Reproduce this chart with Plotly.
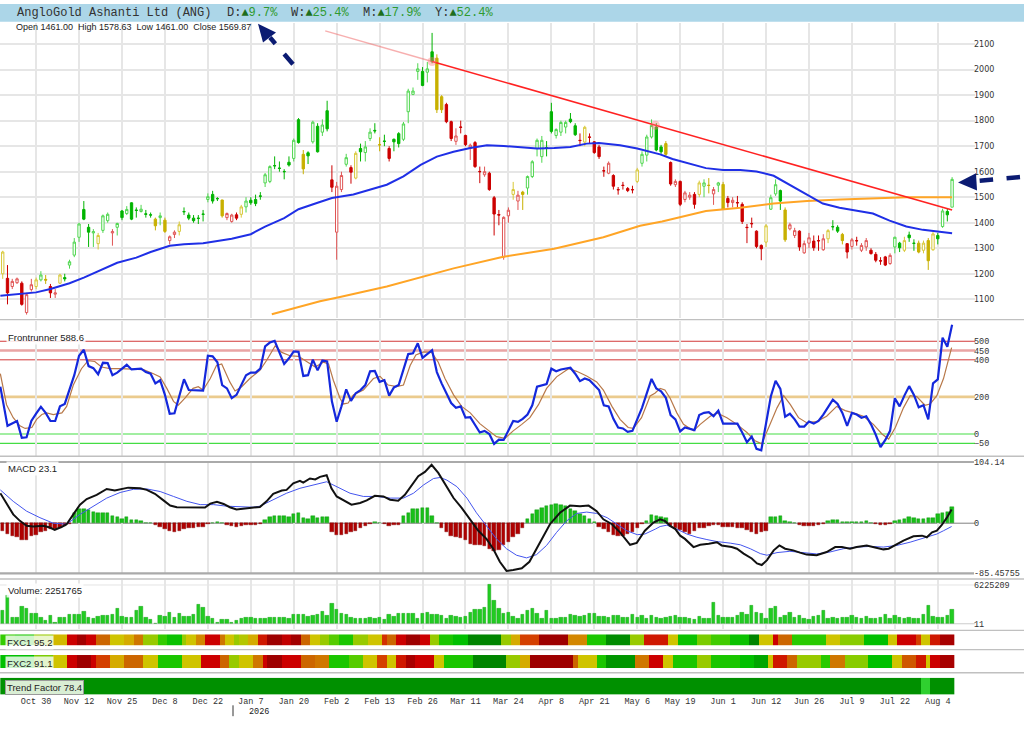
import plotly.graph_objects as go

W, H = 1024, 735

# daily candles, index 0..199
opens = [1200,1182,1150,1165,1163,1048,1138,1150,1176,1178,
         1150,1120,1163,1185,1234,1273,1343,1452,1382,1360,
         1318,1370,1408,1360,1382,1446,1436,1478,1450,1444,
         1435,1431,1414,1420,1410,1330,1354,1366,1444,1430,
         1418,1418,1434,1491,1511,1495,1489,1420,1405,1431,
         1433,1462,1488,1491,1505,1556,1562,1624,1614,1601,
         1637,1652,1804,1668,1674,1717,1778,1755,1839,1568,
         1363,1530,1629,1616,1575,1691,1675,1730,1762,1706,
         1720,1691,1727,1749,1727,1835,1903,1993,1993,1990,
         2070,2045,1894,1863,1796,1719,1775,1742,1691,1714,
         1601,1588,1594,1498,1432,1266,1427,1511,1485,1520,
         1536,1581,1691,1659,1694,1835,1742,1755,1775,1806,
         1780,1723,1716,1736,1717,1697,1604,1594,1585,1530,
         1547,1534,1530,1562,1633,1665,1736,1775,1697,1710,
         1636,1549,1562,1491,1500,1511,1511,1543,1547,1513,
         1547,1550,1495,1479,1479,1472,1382,1397,1367,1311,
         1324,1453,1513,1526,1450,1376,1350,1367,1282,1320,
         1328,1330,1294,1337,1385,1382,1354,1318,1307,1330,
         1292,1305,1292,1276,1251,1266,1240,1305,1320,1292,
         1352,1320,1320,1292,1330,1294,1350,1385,1444,1461]
highs = [1290,1234,1180,1185,1170,1125,1180,1185,1210,1195,
         1160,1140,1200,1200,1255,1340,1400,1485,1395,1375,
         1360,1432,1440,1375,1400,1450,1465,1480,1460,1470,
         1450,1440,1420,1440,1420,1350,1370,1405,1460,1440,
         1430,1430,1450,1515,1525,1500,1490,1440,1435,1440,
         1470,1500,1500,1510,1520,1595,1625,1660,1640,1610,
         1660,1730,1810,1685,1680,1800,1790,1805,1878,1625,
         1560,1600,1670,1625,1680,1710,1720,1770,1790,1735,
         1745,1700,1730,1755,1795,1925,1930,2025,2010,2030,
         2144,2060,1900,1870,1800,1770,1800,1745,1710,1720,
         1620,1620,1600,1505,1450,1425,1460,1560,1525,1525,
         1585,1645,1730,1740,1720,1870,1770,1800,1800,1830,
         1790,1750,1780,1750,1720,1705,1620,1640,1590,1540,
         1560,1540,1545,1615,1680,1745,1805,1790,1705,1720,
         1640,1570,1565,1525,1520,1520,1565,1570,1575,1540,
         1560,1560,1505,1500,1505,1480,1395,1420,1370,1315,
         1395,1510,1570,1530,1460,1400,1380,1370,1330,1360,
         1350,1350,1355,1375,1410,1390,1360,1320,1340,1345,
         1320,1340,1300,1285,1265,1270,1280,1345,1325,1345,
         1365,1335,1330,1330,1340,1365,1360,1455,1455,1578.63]
lows = [1180,1080,1140,1160,1075,1040,1130,1140,1170,1160,
        1105,1105,1160,1170,1220,1265,1325,1410,1305,1305,
        1295,1360,1400,1310,1350,1410,1430,1410,1420,1440,
        1420,1420,1370,1390,1360,1315,1340,1350,1430,1410,
        1400,1395,1405,1480,1475,1485,1420,1410,1400,1410,
        1420,1440,1470,1465,1490,1540,1555,1610,1600,1570,
        1620,1640,1710,1590,1630,1710,1675,1740,1758,1520,
        1255,1520,1620,1553,1570,1640,1640,1720,1750,1680,
        1700,1640,1680,1695,1720,1790,1900,1960,1935,1950,
        2025,1830,1830,1790,1720,1705,1750,1700,1646,1615,
        1555,1580,1525,1350,1390,1255,1400,1490,1450,1450,
        1510,1575,1660,1635,1660,1750,1730,1740,1750,1790,
        1740,1700,1700,1710,1670,1650,1580,1590,1530,1510,
        1530,1520,1515,1555,1620,1640,1730,1680,1670,1660,
        1545,1540,1465,1480,1490,1455,1500,1500,1515,1470,
        1520,1450,1460,1460,1455,1395,1320,1380,1300,1253,
        1305,1450,1505,1450,1325,1370,1340,1290,1278,1300,
        1290,1290,1290,1320,1370,1360,1315,1260,1295,1310,
        1285,1290,1275,1245,1235,1230,1235,1280,1285,1285,
        1325,1290,1280,1280,1215,1290,1315,1380,1405,1461]
closes = [1285,1125,1170,1180,1080,1118,1157,1176,1195,1175,
          1125,1125,1195,1180,1247,1324,1395,1414,1363,1365,
          1350,1427,1433,1365,1397,1420,1452,1414,1448,1453,
          1433,1430,1388,1427,1366,1345,1363,1392,1443,1418,
          1408,1417,1433,1502,1485,1494,1427,1436,1430,1418,
          1462,1485,1478,1475,1504,1588,1620,1623,1613,1600,
          1626,1723,1714,1611,1662,1794,1678,1783,1768,1539,
          1543,1585,1655,1598,1672,1678,1697,1755,1760,1705,
          1719,1652,1717,1710,1787,1916,1916,2003,1938,2003,
          2032,1843,1843,1796,1730,1740,1774,1706,1704,1620,
          1600,1600,1530,1434,1430,1421,1449,1530,1508,1511,
          1581,1639,1723,1723,1693,1758,1765,1793,1793,1796,
          1745,1722,1774,1735,1675,1659,1603,1633,1543,1529,
          1546,1526,1529,1607,1668,1736,1781,1685,1678,1668,
          1552,1562,1472,1517,1508,1472,1556,1556,1546,1530,
          1556,1453,1479,1488,1478,1405,1381,1396,1307,1298,
          1388,1498,1549,1485,1333,1392,1369,1305,1318,1341,
          1302,1329,1337,1369,1384,1367,1330,1285,1333,1329,
          1311,1330,1279,1253,1250,1234,1272,1343,1302,1330,
          1341,1319,1285,1320,1251,1356,1337,1446,1431,1569.87]
# candle colour class: g green, r red, y yellow
candle_cls = ("yrrrrrrygy" "rryggggggg" "yggrgggggg" "ggygyrrygg" "ggggggyrrr"
              "yggggggggg" "gggygggggr" "rrgryggggy" "grgggggggg" "gyyrrrrrrr"
              "rrrrrrryry" "gggggggggg" "gryrrrrrrr" "rrrygggggy" "rrrrrrygyr"
              "gyrrrrrrrr" "ygggyrrrrr" "rrryggyrrr" "rrrrrrrggy" "ggyyyygggg")

ma50_x = [-0.5, 7, 10, 14, 17, 21, 24, 28, 31, 35, 38, 42, 45, 48, 52, 55, 59, 62, 66, 69,
          73.5, 80.5, 84, 87.6, 91, 94.5, 98, 101.5, 105, 108.7, 112, 115.6, 119, 122.4, 125,
          129.4, 133, 137.8, 140.4, 147.4, 151, 154.6, 158, 161.6, 164.9, 168.4, 171.9, 175.4,
          179, 182.4, 185.9, 189.4, 192.9, 196.4, 199]
ma50_y = [1114, 1127, 1140, 1163, 1185, 1220, 1243, 1263, 1285, 1310, 1316, 1320, 1330, 1337,
          1355, 1385, 1418, 1453, 1478, 1497, 1511, 1549, 1582, 1627, 1659, 1678, 1693, 1704,
          1701, 1695, 1691, 1693, 1697, 1710, 1712, 1704, 1691, 1668, 1650, 1614, 1607, 1607,
          1601, 1584, 1549, 1511, 1475, 1459, 1446, 1436, 1408, 1385, 1372, 1363, 1359]
ma200_x = [56.4, 66.5, 70.7, 80.5, 94.5, 104.7, 115.6, 125.9, 133.6, 138.2, 147.4, 154.6,
           161.6, 168.6, 175.6, 182.6, 189.6, 199]
ma200_y = [1041, 1092, 1109, 1150, 1221, 1266, 1298, 1343, 1388, 1405, 1446, 1459, 1475,
           1485, 1491, 1495, 1500, 1500]
trend_x = [67.6, 90, 199]
trend_y = [2152, 2032, 1450]
anchor_x = [90, 136.8]
anchor_y = [2032, 1782]

# Frontrunner oscillator
osc_x = [-0.5, 1, 3, 4, 5, 6, 7, 8, 9, 10, 11, 12, 13, 15, 16, 17, 18, 19, 20, 21, 22, 23, 24,
         26, 27, 28, 29, 30, 31, 32, 33, 34, 35, 36, 38, 39, 40, 42, 43, 44, 45, 46, 47, 48, 49,
         51, 52, 53, 54, 55, 56, 57, 59, 60, 61, 62, 63, 64, 65, 66, 67, 68, 69, 70, 71, 72, 73,
         74, 75, 76, 77, 78, 79, 80, 81, 82, 83, 85, 86, 87, 88, 90, 91, 92, 94, 95, 96, 97, 98,
         99, 100, 101, 102, 103, 104, 105, 107, 108, 109, 110, 111, 112, 114, 115, 116, 117, 119,
         120, 121, 122, 123, 125, 126, 127, 128, 129, 130, 131, 132, 134, 136, 137, 138, 139, 140,
         141, 142, 143, 145, 146, 147, 148, 149, 150, 151, 153, 154, 155, 156, 157, 158, 159, 161,
         162, 163, 164, 165, 166, 167, 168, 169, 170, 171, 172, 174, 175, 176, 177, 178, 179, 180,
         181, 182, 183, 184, 185, 186, 187, 188, 189, 190, 191, 192, 193, 194, 195, 196, 197, 198, 199]
osc_v = [255, 44, 70, -21, -18, 70, 110, 146, 114, 70, 70, 149, 162, 317, 422, 454, 366, 355, 322,
         384, 382, 317, 331, 373, 348, 348, 352, 334, 325, 273, 290, 211, 109, 112, 295, 237, 237,
         234, 422, 419, 387, 264, 246, 193, 211, 317, 331, 331, 352, 472, 493, 502, 378, 408, 445,
         443, 313, 317, 401, 343, 396, 391, 176, 66, 149, 241, 179, 220, 237, 264, 338, 340, 281,
         290, 207, 251, 264, 431, 435, 489, 410, 452, 334, 273, 167, 141, 149, 88, 91, 52, 8, 17,
         0, -53, -30, -32, 70, 65, 82, 105, 155, 255, 269, 352, 338, 348, 357, 325, 285, 299, 290,
         237, 155, 149, 82, 35, 30, 12, 17, 141, 297, 246, 230, 195, 102, 79, 14, 35, 21, 102, 114,
         118, 96, 126, 56, 56, 56, 8, -44, -14, -80, -88, 202, 287, 243, 93, 109, 79, 40, 40, 67,
         56, 70, 105, 185, 162, 114, 44, 114, 105, 88, 96, 52, -4, -71, -32, 17, 193, 149, 207,
         258, 211, 144, 155, 79, 273, 294, 519, 470, 588.6]
sig_x = [-0.5, 0.8, 2.2, 3.6, 4.7, 6.1, 7.1, 8.2, 9.2, 10.6, 12.4, 13.4, 14.8, 16.5, 17.9, 19.3,
         20.7, 22.5, 24.6, 27.4, 29.5, 31.6, 33, 34.4, 35.8, 36.8, 38.2, 39.9, 41, 42, 43.5, 44.8,
         45.9, 47.6, 48.7, 50.1, 51.8, 53.9, 55.3, 57.1, 58.5, 60.2, 62, 63.7, 65.5, 67.2, 68.3,
         69.3, 70.7, 71.4, 72.4, 73.5, 75.6, 77.7, 79.1, 80.8, 82.6, 84, 85.4, 86.6, 88.2, 89.9,
         91.3, 92.7, 94.5, 96.2, 98, 100, 101.8, 103.5, 105.3, 107, 108.8, 110.5, 112.3, 114,
         116.1, 118.6, 120.3, 122.4, 124.5, 125.9, 127.7, 129.4, 131.1, 132.2, 133.9, 135.7,
         136.7, 137.8, 138.8, 139.9, 141.3, 142.7, 144.8, 146.2, 148.3, 149.7, 151.8, 153.9, 156,
         157.7, 159.1, 160.5, 162.3, 163.7, 165.1, 166.8, 168.5, 170.6, 172.7, 174.8, 176.6,
         178.3, 180.4, 182.5, 184.3, 185.7, 187.1, 188.8, 190.2, 191.6, 193.3, 194.4, 195.8,
         197.2, 198.9]
sig_v = [325, 158, 88, 44, 30, 35, 79, 105, 114, 105, 114, 149, 264, 352, 396, 391, 361, 352, 352,
         348, 347, 325, 308, 246, 176, 155, 193, 246, 255, 237, 299, 369, 378, 281, 232, 255, 299,
         343, 396, 475, 440, 422, 419, 391, 361, 387, 378, 290, 193, 162, 167, 211, 237, 299, 311,
         264, 255, 264, 369, 426, 443, 440, 387, 299, 211, 149, 114, 56, 21, -14, -23, 17, 52, 88,
         158, 246, 308, 352, 338, 313, 281, 237, 149, 79, 35, 30, 88, 205, 220, 246, 237, 193,
         114, 52, 17, 52, 96, 114, 88, 52, 8, -36, -53, 35, 141, 207, 158, 88, 61, 67, 96, 149,
         126, 114, 96, 52, 0, -27, 35, 141, 207, 202, 155, 162, 207, 299, 466]
osc_levels = [-50, 0, 200, 400, 450, 500]

# MACD
macd_x = [-0.5, 0.8, 2.2, 3.6, 5, 6.4, 8.5, 9.9, 10.9, 12.4, 13.4, 14.8, 16.2, 17.6, 19.7, 21.8,
          23.5, 26.3, 28.8, 30.2, 31.9, 33.7, 35.1, 36.5, 38.6, 40.7, 42.4, 43.5, 44.9, 46.3, 47.6,
          49, 51.1, 53.9, 55.3, 56.7, 58.5, 59.5, 60.9, 62.3, 63, 64.4, 65.5, 66.5, 67.9, 68.9, 70,
          71.7, 73.1, 74.9, 76.3, 78, 79.8, 81.2, 82.9, 84.3, 85.7, 87.1, 88.5, 89.9, 91.3, 92.7,
          94.5, 96.2, 98, 99.7, 101.4, 102.8, 104.2, 105.6, 107, 108.8, 110.4, 111.9, 113.3, 114.7,
          116.8, 118.9, 121, 122.8, 124.5, 125.9, 127.7, 129.4, 131.5, 132.9, 134.6, 136.4, 137.8,
          138.8, 139.9, 141, 142, 143, 144.8, 146.2, 148, 149.7, 150.7, 152.8, 153.9, 155.3, 157,
          158.1, 159.1, 160.2, 161.6, 162.8, 164, 165.7, 167.1, 168.5, 170.6, 172.7, 174.5, 175.9,
          177.6, 179, 181.1, 182.9, 184.6, 185.7, 187.1, 188.8, 190.9, 192.7, 193.7, 194.8, 195.8,
          196.8, 197.9, 198.9]
macd_v = [51, 34, 15, 4, -4.5, -5.6, -4.5, -7.3, -11.2, -6.2, -1.7, 15, 31.6, 41, 48.3, 58.3, 55.5,
          60.5, 59.4, 56.7, 50, 38.8, 30, 27.2, 27.2, 26.1, 26.6, 33.3, 36.6, 32.7, 27.2, 23.3,
          25.5, 27.7, 37.2, 50, 55.5, 56.7, 67.8, 72.2, 68.9, 76.1, 74.4, 78.9, 81.6, 59.4, 45.5,
          37.2, 31.6, 34.4, 38.8, 46.6, 45.5, 40, 38.3, 48.3, 65, 80, 87.2, 99.4, 85.5, 67.8, 42.8,
          26.1, 6.7, -12.8, -26.7, -43.4, -65.6, -81.2, -79.5, -76.7, -65.6, -43.4, -21.2, -1.7,
          17.7, 30, 28.9, 30, 20.5, 6.7, -1.7, -15.6, -36.7, -33.4, -12.8, 1.1, 6.6, 3.8, -4.5, -10,
          -21.2, -26.7, -40.6, -36.7, -35, -32.3, -37.8, -40.6, -43.4, -51.7, -60, -68.4, -71.2,
          -62.8, -46.2, -37.8, -43.4, -46.2, -50, -53.4, -54.5, -49, -40.6, -40.6, -43.4, -40.6,
          -37.8, -40.6, -44.5, -43.4, -36.7, -29.5, -22.3, -21.2, -23.9, -15.6, -12.8, -3.4, 9.4,
          23.3]
msig_x = [-0.5, 2.2, 5, 7.8, 10.6, 13.4, 16.2, 19, 21.8, 24.6, 27.4, 30.2, 33, 35.8, 38.6, 41.4,
          44.2, 47, 49.7, 52.5, 53.9, 56.7, 59.5, 62.3, 65.1, 67.9, 70.7, 72.8, 75.6, 78.4, 81.2,
          84, 86.1, 88.2, 90.3, 91.7, 93.1, 95.2, 97.3, 99.3, 101.4, 103.5, 105.6, 107.7, 109.8,
          111.9, 114, 116.1, 118.2, 120.3, 122.4, 124.5, 126.7, 128.7, 130.8, 133, 134.6, 136.8,
          137.8, 139.2, 141.3, 143.4, 145.5, 147.6, 149.7, 152.5, 154.6, 156.7, 158.8, 160.2,
          162.3, 165, 167.8, 170.6, 173.4, 176.2, 179, 181.8, 184.6, 187.4, 190.2, 193, 195.8,
          197.2, 198.9]
msig_v = [56.6, 37.2, 20.5, 9.4, 0, -1.7, 15, 28.9, 42.7, 52.2, 57.7, 58.3, 53.9, 45.5, 37.2, 31.6,
          31.6, 28.9, 27.7, 27.2, 28.9, 40, 51, 59.4, 65, 70.5, 59.4, 51, 45.5, 45.5, 42.7, 42.7, 51,
          65, 76, 77.8, 73.3, 62.2, 42.7, 17.7, -4.5, -26.7, -43.4, -54.5, -59, -53.4, -37.8,
          -15.6, 3.8, 16.6, 18.9, 16.6, 9.4, -1.7, -12.8, -19.5, -18.4, -10, -5.6, -3.4, -10, -18.4,
          -23.9, -27.8, -31.2, -33.9, -36.7, -43.4, -51.7, -54.5, -50, -47.8, -50, -52.3, -49,
          -43.4, -40.6, -39.5, -40.6, -37.8, -32.3, -25.6, -18.4, -12.8, -5.6]
macd_hist = [-12.8, -18, -22, -24, -28, -28, -22, -20, -15, -13, -10, -9, -8, -5, -2, 18, 24, 24,
             22, 19, 18, 18, 18, 13, 11, 8, 10, 5.5, 5.5, 4, 1, 1, -3, -5.6, -10, -12.8, -14.5,
             -12.8, -10, -8, -8, -6.7, -5.6, -1, 1, 2, 0.5, -3, -4.5, -5.6, -4.5, -3.3, -2.2, -2.2,
             -1, 5.5, 10, 12, 13, 12, 11, 16, 17, 9, 7, 12, 9.4, 11, 10.6, -15, -20, -20, -18.4,
             -15.6, -12.8, -8.9, -4.5, -1.1, 2.8, 0.5, -2, -4.5, -3.3, -3.3, 12.2, 16.7, 24.4, 24.4,
             25.6, 26.1, 12.2, 1.1, -8.9, -15.6, -22.3, -24, -25.6, -27.8, -35, -36.7, -37.8, -39.5,
             -43.4, -47.8, -46.2, -37.8, -32.2, -24, -18.4, -7.3, 6.7, 15, 23.3, 25.5, 28.9, 31.6,
             32.7, 31.6, 30, 24.4, 20.5, 15, 12.2, 6.7, 2.2, -5.6, -10, -15.6, -20, -22.3, -21.1,
             -18.4, -15.6, -8.9, -1.7, 3.9, 13.3, 12.2, 10.6, 9.4, -4.5, -8.9, -11.1, -14.5, -18.4,
             -12.8, -8.9, -7.3, -4.5, -3.3, -2.2, -5.6, -6.2, -5.6, -7.3, -8.9, -11.1, -14.5, -18.4,
             -15.6, -12.8, 10, 10, 12.2, 3.9, 2.8, 1.1, -3.3, -4.5, -4.5, -4.5, -3.3, -1.7, 3.9, 5.5,
             5.5, 2.2, 2.2, 2.8, 2.8, 2.8, 3.3, 1.1, -1.7, -2.8, -3.3, -1.1, 4.5, 5.5, 7.8, 10, 9.4,
             7.8, 6.7, 9.4, 9.4, 15.6, 17.8, 18.9, 27.8]

# volume, millions of shares
volume_m = [2.11, 4.59, 0.95, 1.06, 2.80, 2.37, 1.69, 1.58, 1.06, 0.53,
            1.32, 0.2, 1.0, 1.06, 1.42, 1.42, 1.42, 1.95, 1.06, 0.9,
            1.11, 1.32, 1.32, 1.42, 2.37, 1.16, 1.06, 1.0, 2.16, 2.74,
            0.95, 0.69, 0.1, 1.32, 1.21, 1.85, 1.06, 1.58, 1.21, 1.21,
            1.42, 3.06, 2.64, 1.16, 0.9, 0.26, 0.69, 0.69, 0.26, 0.53,
            0.9, 1.06, 0.95, 0.79, 0.9, 0.9, 1.06, 1.06, 1.06, 1.06,
            0.9, 1.42, 1.42, 1.42, 1.16, 1.32, 1.42, 2.0, 1.32, 3.17,
            2.27, 1.69, 1.42, 1.06, 0.9, 0.9, 0.79, 1.06, 0.79, 1.06,
            0.63, 1.42, 1.21, 1.58, 1.58, 1.58, 1.58, 0.9, 1.69, 1.74,
            1.42, 1.42, 1.32, 0.9, 1.32, 1.21, 1.06, 1.11, 1.85, 2.22,
            2.22, 2.64, 6.225209, 3.69, 2.48, 1.69, 1.74, 1.21, 0.9, 1.42,
            2.11, 2.37, 1.58, 0.79, 2.11, 0.9, 0.9, 1.06, 0.95, 1.42,
            1.32, 1.21, 1.32, 1.58, 1.58, 1.21, 1.21, 0.95, 1.32, 1.32,
            1.0, 1.06, 1.48, 1.06, 1.32, 0.9, 1.32, 1.06, 0.9, 1.06,
            1.21, 1.32, 1.06, 1.06, 0.9, 0.63, 1.21, 0.79, 0.9, 3.43,
            1.32, 1.06, 1.06, 1.06, 1.32, 1.74, 1.42, 3.0, 1.85, 1.58,
            0.79, 2.37, 2.8, 1.06, 1.32, 1.74, 1.06, 1.32, 0.9, 0.63,
            1.21, 1.32, 2.11, 0.9, 1.06, 0.9, 1.06, 1.06, 1.32, 1.06,
            0.9, 1.21, 0.9, 0.79, 1.06, 1.42, 0.9, 1.32, 1.06, 0.9,
            0.95, 0.79, 0.9, 1.42, 3.0, 1.21, 1.06, 1.06, 1.32, 2.251765]

# FXC strips as runs: (value 0 = dark green ... 100 = dark red, run length in days)
fxc1_vals = [30, 25, 45, 58, 88, 96, 88, 72, 55, 62, 70, 45, 30, 22, 45, 55, 68, 88, 70, 55, 45, 50,
             62, 85, 97, 90, 96, 72, 55, 45, 35, 25, 45, 55, 82,
             72, 88, 97, 88, 45, 25, 20, 8, 45, 62, 80, 97, 68, 25, 10, 45, 85, 55, 22, 40, 32, 22,
             8, 55, 88, 72, 28, 55, 42, 20, 55, 88, 80, 55, 85, 95]
fxc1_lens = [3, 4, 4, 3, 2, 2, 2, 3, 3, 2, 2, 3, 2, 3, 1, 2, 2, 3, 1, 2, 1, 2, 2, 2, 3, 2, 2, 2, 2,
             2, 2, 3, 3, 3, 1,
             2, 2, 3, 2, 2, 3, 3, 7, 2, 2, 4, 6, 4, 4, 5, 3, 5, 2, 4, 3, 4, 4, 2, 3, 1, 3, 7, 3, 5,
             5, 2, 4, 1, 2, 2, 3]
fxc2_vals = [20, 40, 55, 88, 97, 88, 80, 62, 72, 55, 25, 55, 88, 72, 45, 55, 70, 88, 97, 88, 72, 70,
             25, 35, 55, 80,
             55, 85, 95, 88, 55, 25, 8, 45, 62, 97, 72, 55, 25, 12, 70, 88, 55, 25, 45, 25, 20, 15,
             55, 85, 72, 45, 28, 70, 42, 20, 55, 75, 85, 55, 88, 95]
fxc2_lens = [7, 4, 3, 2, 3, 1, 3, 3, 4, 3, 5, 4, 4, 2, 2, 3, 2, 1, 3, 4, 3, 3, 4, 3, 3, 2,
             2, 2, 2, 4, 2, 6, 7, 3, 2, 9, 1, 4, 2, 6, 3, 3, 2, 5, 3, 6, 3, 3, 1, 3, 2, 5, 2, 3, 5,
             5, 2, 3, 2, 1, 2, 3]
trend_vals = [0, 1, 0]
trend_lens = [193, 2, 5]

tick_idx = [7, 16, 25, 34, 43, 52, 61, 70, 79, 88, 97, 106, 115, 124, 133, 142, 151, 160, 169,
            178, 187, 196]
tick_lbl = ["Oct 30", "Nov 12", "Nov 25", "Dec 8", "Dec 22", "Jan 7", "Jan 20", "Feb 2", "Feb 13",
            "Feb 26", "Mar 11", "Mar 24", "Apr 8", "Apr 21", "May 6", "May 19", "Jun 1", "Jun 12",
            "Jun 26", "Jul 9", "Jul 22", "Aug 4"]
price_ticks = [1100, 1200, 1300, 1400, 1500, 1600, 1700, 1800, 1900, 2000, 2100]


def expand(vals, lens):
    out = []
    for v, n in zip(vals, lens):
        out += [v] * n
    return out


def PX(x):
    return x / W


def PY(y):
    return 1 - y / H


days = list(range(len(closes)))
fig = go.Figure()

# moving averages and trend line
fig.add_trace(go.Scatter(x=ma200_x, y=ma200_y, mode="lines", line=dict(color="#ffa526", width=2)))
fig.add_trace(go.Scatter(x=ma50_x, y=ma50_y, mode="lines", line=dict(color="#1f2fe6", width=2)))
fig.add_trace(go.Scatter(x=trend_x[:2], y=trend_y[:2], mode="lines",
                         line=dict(color="rgba(240,110,110,0.55)", width=1.5)))
fig.add_trace(go.Scatter(x=trend_x[1:], y=trend_y[1:], mode="lines",
                         line=dict(color="#ff2222", width=1.6)))
fig.add_trace(go.Scatter(x=anchor_x, y=anchor_y, mode="markers",
                         marker=dict(size=9, color="rgba(255,120,120,0.4)")))

palette = {"g": ("#4fd64f", "#00b400"), "r": ("#e05555", "#cc0000"), "y": ("#d8c838", "#c8b000")}
for cls, (light, dark) in palette.items():
    ids = [i for i in days if candle_cls[i] == cls]
    fig.add_trace(go.Candlestick(
        x=ids, open=[opens[i] for i in ids], high=[highs[i] for i in ids],
        low=[lows[i] for i in ids], close=[closes[i] for i in ids],
        increasing=dict(line=dict(color=light, width=1), fillcolor="white"),
        decreasing=dict(line=dict(color=dark, width=1), fillcolor=dark),
        whiskerwidth=0, hoverinfo="skip"))

# oscillator
fig.add_trace(go.Scatter(x=sig_x, y=sig_v, mode="lines", line=dict(color="#b8794a", width=1.2),
                         xaxis="x2", yaxis="y2"))
fig.add_trace(go.Scatter(x=osc_x, y=osc_v, mode="lines", line=dict(color="#1428dc", width=2.2),
                         xaxis="x2", yaxis="y2"))

# MACD
fig.add_trace(go.Bar(x=days, y=macd_hist, width=0.72,
                     marker=dict(color=["#18c018" if v >= 0 else "#b00000" for v in macd_hist],
                                 line=dict(width=0.4, color=["#0a8a0a" if v >= 0 else "#7a0000" for v in macd_hist])),
                     xaxis="x3", yaxis="y3"))
fig.add_trace(go.Scatter(x=msig_x, y=msig_v, mode="lines", line=dict(color="#4455ee", width=1),
                         xaxis="x3", yaxis="y3"))
fig.add_trace(go.Scatter(x=macd_x, y=macd_v, mode="lines", line=dict(color="#111111", width=2),
                         xaxis="x3", yaxis="y3"))

# volume
fig.add_trace(go.Bar(x=days, y=volume_m, width=0.72,
                     marker=dict(color="#22cc22", line=dict(width=0.4, color="#119911")),
                     xaxis="x4", yaxis="y4"))

fxc_scale = [[0, "#006a00"], [0.1, "#008c00"], [0.2, "#00c000"], [0.3, "#33cc00"],
             [0.42, "#88cc00"], [0.55, "#cfc400"], [0.65, "#d8a000"], [0.72, "#cc6600"],
             [0.8, "#d44000"], [0.88, "#cc0000"], [1, "#8e0000"]]
for vals, lens, ax in [(fxc1_vals, fxc1_lens, "5"), (fxc2_vals, fxc2_lens, "6")]:
    fig.add_trace(go.Heatmap(z=[expand(vals, lens)], x=days, y=[0], zmin=0, zmax=100,
                             colorscale=fxc_scale, showscale=False, hoverinfo="skip",
                             xaxis="x" + ax, yaxis="y" + ax))
fig.add_trace(go.Heatmap(z=[expand(trend_vals, trend_lens)], x=days, y=[0], zmin=0, zmax=1,
                         colorscale=[[0, "#009000"], [1, "#2fd02f"]], showscale=False,
                         hoverinfo="skip", xaxis="x7", yaxis="y7"))

mono = "Liberation Mono"
sans = "Liberation Sans"


def xax(anchor, grid=True, labels=False, first=False):
    d = dict(domain=[0, 975 / W], anchor=anchor, range=[-0.57, 203.8], tickvals=tick_idx,
             ticktext=tick_lbl, showticklabels=labels, showgrid=grid, gridcolor="#e6e6e6",
             gridwidth=1.5, zeroline=False, showline=False, ticks="", fixedrange=True,
             tickfont=dict(family=mono, size=8.5, color="#333"))
    if first:
        d["rangeslider"] = dict(visible=False)
    else:
        d["matches"] = "x"
    return d


def yax(anchor, top, bottom, rng, **kw):
    d = dict(domain=[1 - bottom / H, 1 - top / H], anchor=anchor, range=rng, side="right",
             showgrid=False, zeroline=False, showline=False, ticks="", fixedrange=True,
             ticklabelstandoff=-2, tickfont=dict(family=mono, size=8.5, color="#333"))
    d.update(kw)
    return d


shapes = [dict(type="rect", xref="paper", yref="paper", x0=0, x1=1, y0=PY(18), y1=1,
               fillcolor="#acd6e8", line=dict(width=0), layer="below")]
# full-width panel separators
for yy in [320, 458.5, 583, 635, 654.5, 678]:
    shapes.append(dict(type="line", xref="paper", yref="paper", x0=0, x1=1, y0=PY(yy), y1=PY(yy),
                       line=dict(color="#c0c0c0", width=1.4)))
# plot-width MACD bounds
for yy in [464.3, 577.3]:
    shapes.append(dict(type="line", xref="paper", yref="paper", x0=0, x1=PX(974), y0=PY(yy),
                       y1=PY(yy), line=dict(color="#aaaaaa", width=2.2)))
osc_style = {500: ("#d23a3a", 1), 450: ("rgba(215,90,90,0.55)", 2.6), 400: ("#d23a3a", 1),
             200: ("#ebcb8e", 2.6), 0: ("#44dd44", 1.2), -50: ("#44dd44", 1.2)}
for lv in osc_levels:
    c, w = osc_style[lv]
    shapes.append(dict(type="line", xref="x2 domain", yref="y2", x0=0, x1=1, y0=lv, y1=lv,
                       line=dict(color=c, width=w), layer="below"))
shapes.append(dict(type="line", xref="x3 domain", yref="y3", x0=0, x1=1, y0=0, y1=0,
                   line=dict(color="#808080", width=1), layer="below"))
shapes.append(dict(type="line", xref="x4 domain", yref="y4", x0=0, x1=1, y0=6.225209, y1=6.225209,
                   line=dict(color="#e4e4e4", width=1), layer="below"))
shapes.append(dict(type="line", xref="x4 domain", yref="y4", x0=0, x1=1, y0=0, y1=0,
                   line=dict(color="#cccccc", width=1), layer="below"))
shapes.append(dict(type="line", xref="paper", yref="paper", x0=PX(233), x1=PX(233),
                   y0=PY(711), y1=PY(722), line=dict(color="#333", width=1)))

# navy marker arrows
navy = "#0b1b72"
shapes.append(dict(type="line", xref="paper", yref="paper", x0=PX(293), y0=PY(61), x1=PX(270),
                   y1=PY(34), line=dict(color=navy, width=4.5, dash="dash")))
shapes.append(dict(type="path", xref="paper", yref="paper", fillcolor=navy, line=dict(width=0),
                   path=f"M {PX(258)} {PY(20)} L {PX(276)} {PY(29)} L {PX(263)} {PY(39)} Z"))
shapes.append(dict(type="line", xref="paper", yref="paper", x0=PX(1020), y0=PY(175.5),
                   x1=PX(975), y1=PY(179.5), line=dict(color=navy, width=4.5, dash="dash")))
shapes.append(dict(type="path", xref="paper", yref="paper", fillcolor=navy, line=dict(width=0),
                   path=f"M {PX(958)} {PY(181)} L {PX(976)} {PY(171.5)} L {PX(977)} {PY(189)} Z"))

ann = []


def label(text, x, y, size=9.5, family=sans, **kw):
    d = dict(text=text, xref="paper", yref="paper", x=PX(x), y=PY(y), xanchor="left",
             yanchor="middle", showarrow=False, font=dict(family=family, size=size, color="#222"))
    d.update(kw)
    ann.append(d)


green = "#2f9a2f"
label("AngloGold Ashanti Ltd (ANG)", 15, 9.5, font=dict(family=mono, size=12, color="#333"))
for x, key, val in [(225, "D:", "9.7%"), (289, "W:", "25.4%"), (361, "M:", "17.9%"), (433, "Y:", "52.4%")]:
    label(f"{key}<span style='color:#1d6e1d'>▲</span><span style='color:{green}'>{val}</span>", x, 9.5,
          font=dict(family=mono, size=12, color="#333"))
label("Open 1461.00&nbsp;&nbsp;High 1578.63&nbsp;&nbsp;Low 1461.00&nbsp;&nbsp;Close 1569.87", 14, 23.5, size=9)
box = dict(bgcolor="rgba(255,255,255,0.85)", borderpad=1)
label("Frontrunner 588.6", 6, 338.5, **box)
label("MACD 23.1", 6, 470.5, **box)
label("Volume: 2251765", 6, 594.5, **box)
label("FXC1 95.2", 5, 647, bgcolor="rgba(255,255,255,0.8)", borderpad=1)
label("FXC2 91.1", 5, 669, bgcolor="rgba(255,255,255,0.8)", borderpad=1)
label("Trend Factor 78.4", 5, 693, bgcolor="rgba(236,246,230,0.92)", bordercolor="#9a9a9a",
      borderwidth=1, borderpad=1)
label("2026", 247, 717.5, size=8.5, family=mono)

fig.update_layout(
    width=W, height=H, margin=dict(l=0, r=0, t=0, b=0), showlegend=False,
    paper_bgcolor="white", plot_bgcolor="white", bargap=0,
    xaxis=xax("y", first=True), xaxis2=xax("y2"), xaxis3=xax("y3"), xaxis4=xax("y4"),
    xaxis5=xax("y5", grid=False), xaxis6=xax("y6", grid=False), xaxis7=xax("y7", grid=False, labels=True),
    yaxis=yax("x", 19, 318.5, [1025.9, 2183.8], tickvals=price_ticks, showgrid=True,
              gridcolor="#e6e6e6", gridwidth=1.5, tickfont=dict(family="DejaVu Sans", size=8, color="#333")),
    yaxis2=yax("x2", 321, 458, [-117.3, 611.2], tickvals=osc_levels),
    yaxis3=yax("x3", 464.3, 577.3, [-85.45755, 104.14], tickvals=[-85.45755, 0, 104.14],
               ticktext=["-85.45755", "0", "104.14"]),
    yaxis4=yax("x4", 583.5, 634, [-0.903, 7.096], tickvals=[0.000011, 6.225209],
               ticktext=["11", "6225209"]),
    yaxis5=yax("x5", 639, 650.5, [-0.5, 0.5], visible=False),
    yaxis6=yax("x6", 660, 673.5, [-0.5, 0.5], visible=False),
    yaxis7=yax("x7", 683, 700, [-0.5, 0.5], visible=False),
    shapes=shapes, annotations=ann,
)

fig.write_html("out.html", config={"displayModeBar": False},
               post_script="document.body.style.margin='0';document.body.style.overflow='hidden';")
